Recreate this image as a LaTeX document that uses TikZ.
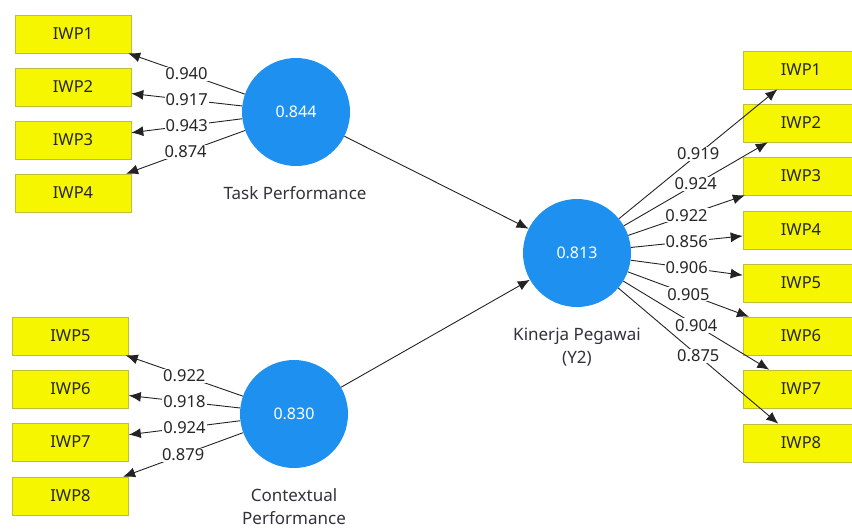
\documentclass[tikz,border=0pt]{standalone}
\usepackage{fontspec}
\setmainfont{Noto Sans}
\usetikzlibrary{arrows.meta}
\definecolor{lvblue}{RGB}{30,144,240}
\definecolor{mvyellow}{RGB}{246,246,0}
\definecolor{mvedge}{RGB}{190,190,60}
\definecolor{wire}{RGB}{35,35,35}
\definecolor{captext}{RGB}{50,50,60}
\begin{document}
\begin{tikzpicture}[x=1pt,y=-1pt,
  indicator/.style={draw=mvedge,line width=0.6pt,fill=mvyellow,minimum width=116pt,minimum height=38pt,
    inner sep=0pt,font=\fontsize{16.5}{19}\selectfont,text=black!85},
  latent/.style={circle,fill=lvblue,minimum size=108pt,inner sep=0pt,
    font=\fontsize{16}{19}\selectfont,text=white},
  caption/.style={font=\fontsize{17}{23}\selectfont,text=captext,align=center},
  wt/.style={fill=white,inner sep=1pt,font=\fontsize{16.5}{19}\selectfont,text=black!85},
  link/.style={draw=wire,line width=0.9pt,-{Latex[length=12pt,width=10pt]}}]
\useasboundingbox (0,0) rectangle (852,528);

% latent variables
\node[latent] (T) at (296,112) {0.844};
\node[latent] (C) at (294,414) {0.830};
\node[latent] (K) at (577,253) {0.813};
\node[caption] (Tc) at (295,193) {Task Performance};
\node[caption,anchor=north] (Cc) at (294,485) {Contextual\\Performance};
\node[caption,anchor=north] (Kc) at (577,324) {Kinerja Pegawai\\(Y2)};

% indicators of Task Performance
\node[indicator] (a1) at (73,34) {IWP1};
\node[indicator] (a2) at (73,87) {IWP2};
\node[indicator] (a3) at (73,140) {IWP3};
\node[indicator] (a4) at (73,193) {IWP4};

% indicators of Contextual Performance
\node[indicator] (b5) at (70.5,336) {IWP5};
\node[indicator] (b6) at (70.5,389) {IWP6};
\node[indicator] (b7) at (70.5,442) {IWP7};
\node[indicator] (b8) at (70.5,496) {IWP8};

% indicators of Kinerja Pegawai
\node[indicator] (k1) at (801,70) {IWP1};
\node[indicator] (k2) at (801,123) {IWP2};
\node[indicator] (k3) at (801,176) {IWP3};
\node[indicator] (k4) at (801,230) {IWP4};
\node[indicator] (k5) at (801,283) {IWP5};
\node[indicator] (k6) at (801,336) {IWP6};
\node[indicator] (k7) at (801,389) {IWP7};
\node[indicator] (k8) at (801,443) {IWP8};

% outer loadings
\draw[link] (T) -- node[wt]{0.940} (a1);
\draw[link] (T) -- node[wt]{0.917} (a2);
\draw[link] (T) -- node[wt]{0.943} (a3);
\draw[link] (T) -- node[wt]{0.874} (a4);

\draw[link] (C) -- node[wt]{0.922} (b5);
\draw[link] (C) -- node[wt]{0.918} (b6);
\draw[link] (C) -- node[wt]{0.924} (b7);
\draw[link] (C) -- node[wt]{0.879} (b8);

\draw[link] (K) -- node[wt]{0.919} (k1);
\draw[link] (K) -- node[wt]{0.924} (k2);
\draw[link] (K) -- node[wt]{0.922} (k3);
\draw[link] (K) -- node[wt]{0.856} (k4);
\draw[link] (K) -- node[wt]{0.906} (k5);
\draw[link] (K) -- node[wt]{0.905} (k6);
\draw[link] (K) -- node[wt]{0.904} (k7);
\draw[link] (K) -- node[wt]{0.875} (k8);

% structural paths
\draw[link] (T) -- (K);
\draw[link] (C) -- (K);
\end{tikzpicture}
\end{document}
